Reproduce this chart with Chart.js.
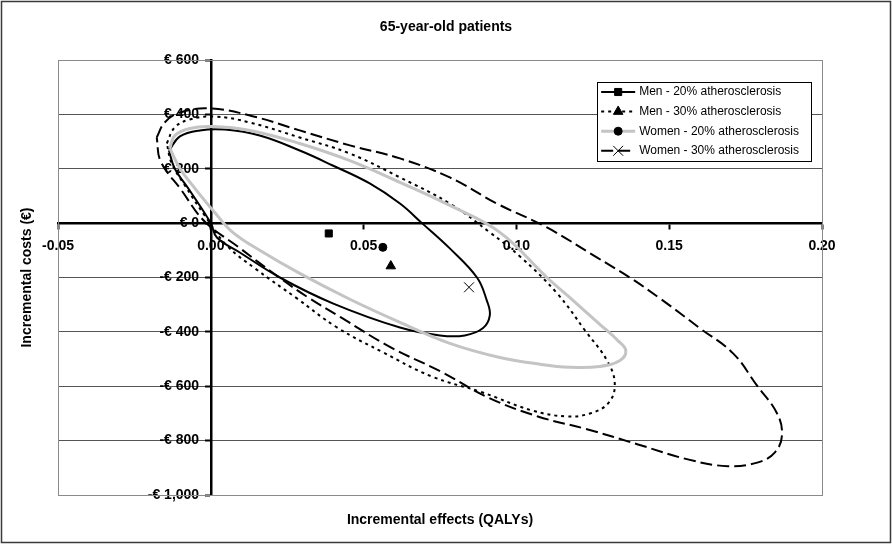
<!DOCTYPE html>
<html>
<head>
<meta charset="utf-8">
<script src="https://cdn.jsdelivr.net/npm/chart.js@4.4.0/dist/chart.umd.min.js"></script>
<style>
  html, body { margin: 0; padding: 0; background: #fff; }
  #wrap { width: 892px; height: 544px; }
</style>
</head>
<body>
<div id="wrap"><canvas id="ceChart" width="892" height="544"></canvas></div>
<script>
// series shown in the legend
const seriesNames = [
  'Men - 20% atherosclerosis',
  'Men - 30% atherosclerosis',
  'Women - 20% atherosclerosis',
  'Women - 30% atherosclerosis'
];

// point estimates (incremental effects, incremental costs)
const pointEffects = [0.0386, 0.0589, 0.0563, 0.0845];
const pointCosts = [-38, -158, -89, -236];

// confidence ellipses, traced point by point
const men20X = [-0.0137, -0.0101, -0.0036, 0.0046, 0.016, 0.0291, 0.0399, 0.052, 0.0619, 0.0691, 0.0782, 0.0871, 0.0903, 0.0913, 0.089, 0.0831, 0.075, 0.0619, 0.0399, 0.0226, 0.0095, 0.002, 0, -0.0069, -0.0118];
const men20Y = [267, 319, 341, 344, 322, 267, 212, 146, 72, 0, -93, -200, -284, -339, -387, -413, -413, -384, -295, -200, -108, -53, 0, 120, 201];

const men30X = [-0.0144, -0.0118, -0.0069, 0.0013, 0.0128, 0.0291, 0.0455, 0.0619, 0.0782, 0.0913, 0.1011, 0.1133, 0.1224, 0.1300, 0.1322, 0.1300, 0.1241, 0.1165, 0.1051, 0.0887, 0.0723, 0.0563, 0.0412, 0.0282, 0.0144, 0.0052, -0.0020, -0.0085, -0.0128];
const men30Y = [293, 352, 381, 392, 370, 315, 256, 168, 72, -34, -122, -258, -394, -512, -597, -663, -700, -711, -689, -622, -564, -475, -383, -277, -166, -82, 28, 139, 220];

const women20X = [-0.0134, -0.0118, -0.0069, 0.0003, 0.0128, 0.0291, 0.0455, 0.0619, 0.0782, 0.0946, 0.1100, 0.1185, 0.1273, 0.1332, 0.1358, 0.1339, 0.1273, 0.1175, 0.1077, 0.0946, 0.0782, 0.0619, 0.0455, 0.0291, 0.0160, 0.0072, 0.0013, -0.0052, -0.0101];
const women20Y = [275, 322, 348, 355, 341, 293, 230, 150, 65, -34, -200, -284, -372, -432, -468, -505, -527, -530, -519, -494, -442, -365, -280, -185, -100, -34, 39, 128, 201];

const women30X = [-0.0177, -0.0151, -0.0101, -0.0003, 0.0128, 0.0291, 0.0455, 0.0619, 0.0782, 0.0936, 0.1100, 0.1263, 0.1371, 0.1470, 0.1601, 0.1709, 0.1787, 0.1853, 0.1869, 0.1846, 0.1791, 0.1692, 0.1561, 0.1398, 0.1234, 0.1070, 0.0907, 0.0753, 0.0589, 0.0426, 0.0318, 0.0219, 0.0088, -0.0020, -0.0098, -0.0164];
const women30Y = [315, 370, 407, 422, 396, 341, 286, 238, 168, 72, -16, -126, -200, -277, -387, -479, -597, -700, -781, -843, -880, -894, -869, -814, -759, -711, -641, -546, -457, -347, -273, -196, -86, 6, 124, 227];

// axis ticks
const effectTicks = [-0.05, 0, 0.05, 0.10, 0.15, 0.20];
const costTicks = [-1000, -800, -600, -400, -200, 0, 200, 400, 600];

const FONT = '"Liberation Sans", Arial, sans-serif';

// line looks per series
const lineColors = ['#000000', '#000000', '#c4c4c4', '#000000'];
const lineWidths = [2, 2, 3, 2];
const lineDashes = [[], [3, 4], [], [12, 5]];
const markerStyles = ['rect', 'triangle', 'circle', 'crossRot'];
const markerRadii = [5, 5.5, 4, 7];

// closed loop: repeat the first point at the end
function ellipsePoints(xs, ys) {
  const pts = xs.map((x, i) => ({ x: x, y: ys[i] }));
  pts.push({ x: xs[0], y: ys[0] });
  return pts;
}

const ellipses = [
  ellipsePoints(men20X, men20Y),
  ellipsePoints(men30X, men30Y),
  ellipsePoints(women20X, women20Y),
  ellipsePoints(women30X, women30Y)
];

const datasets = [];
ellipses.forEach((pts, i) => {
  datasets.push({
    label: seriesNames[i],
    data: pts,
    showLine: true,
    borderColor: lineColors[i],
    borderWidth: lineWidths[i],
    borderDash: lineDashes[i],
    tension: 0.4,
    pointRadius: 0,
    fill: false,
    order: 4 - i
  });
});
pointEffects.forEach((x, i) => {
  datasets.push({
    label: seriesNames[i] + ' (mean)',
    data: [{ x: x, y: pointCosts[i] }],
    showLine: false,
    pointStyle: markerStyles[i],
    pointRadius: markerRadii[i],
    pointBackgroundColor: '#000',
    pointBorderColor: '#000',
    pointBorderWidth: 1,
    order: 0
  });
});

// "€ 600", "-€ 1,000"; trailing spaces keep the text clear of the axis line
function euro(v) {
  const s = Math.abs(v).toLocaleString('en-US');
  return (v < 0 ? '-€ ' : '€ ') + s + '\u00a0\u00a0\u00a0';
}

// white page, outer frame and plot-area frame
const framePlugin = {
  id: 'frame',
  beforeDraw(chart) {
    const ctx = chart.ctx;
    ctx.save();
    ctx.fillStyle = '#fff';
    ctx.fillRect(0, 0, chart.width, chart.height);
    ctx.strokeStyle = '#3a3a3a';
    ctx.lineWidth = 1.5;
    ctx.strokeRect(1.5, 1.5, chart.width - 3, chart.height - 3);
    ctx.restore();
  },
  beforeDatasetsDraw(chart) {
    const a = chart.chartArea;
    const ctx = chart.ctx;
    ctx.save();
    ctx.strokeStyle = '#8a8a8a';
    ctx.lineWidth = 1;
    ctx.strokeRect(a.left + 0.5, a.top + 0.5, a.right - a.left, a.bottom - a.top);
    ctx.restore();
  }
};

// title, axis titles and the boxed legend
const labelPlugin = {
  id: 'labels',
  afterDraw(chart) {
    const ctx = chart.ctx;
    const a = chart.chartArea;
    ctx.save();
    ctx.fillStyle = '#000';
    ctx.textAlign = 'center';
    ctx.textBaseline = 'middle';
    ctx.font = 'bold 14px ' + FONT;
    ctx.fillText('65-year-old patients', 446, 27);
    ctx.fillText('Incremental effects (QALYs)', (a.left + a.right) / 2, 520);
    ctx.translate(27, (a.top + a.bottom) / 2);
    ctx.rotate(-Math.PI / 2);
    ctx.fillText('Incremental costs (€)', 0, 0);
    ctx.restore();

    // legend
    ctx.save();
    ctx.font = '12px ' + FONT;
    const textW = Math.max(...seriesNames.map(n => ctx.measureText(n).width));
    const sample = 34;
    const right = 811;
    const top = 82;
    const rowH = 19.6;
    const textLeft = 799 - textW;
    const left = textLeft - sample - 8;
    const bottom = 161;
    ctx.fillStyle = '#fff';
    ctx.fillRect(left, top, right - left, bottom - top);
    ctx.strokeStyle = '#000';
    ctx.lineWidth = 1;
    ctx.strokeRect(Math.round(left) + 0.5, top + 0.5, Math.round(right - left), bottom - top);
    seriesNames.forEach((name, i) => {
      const y = top + 10 + i * rowH;
      const x0 = left + 4;
      ctx.save();
      ctx.strokeStyle = lineColors[i];
      ctx.lineWidth = lineWidths[i];
      ctx.setLineDash(lineDashes[i]);
      ctx.beginPath();
      ctx.moveTo(x0, y);
      ctx.lineTo(x0 + sample, y);
      ctx.stroke();
      ctx.restore();
      ctx.fillStyle = '#000';
      ctx.strokeStyle = '#000';
      ctx.lineWidth = 1;
      Chart.helpers.drawPoint(ctx, {
        pointStyle: markerStyles[i],
        radius: markerRadii[i],
        borderWidth: 1,
        rotation: 0
      }, x0 + sample / 2, y);
      ctx.fillStyle = '#000';
      ctx.textAlign = 'left';
      ctx.textBaseline = 'middle';
      ctx.fillText(name, textLeft, y);
    });
    ctx.restore();
  }
};

const ctx = document.getElementById('ceChart').getContext('2d');
new Chart(ctx, {
  type: 'scatter',
  data: { datasets: datasets },
  options: {
    responsive: false,
    animation: false,
    layout: {
      padding: { left: 58, right: 70, top: 60, bottom: 49 }
    },
    scales: {
      x: {
        type: 'linear',
        position: { y: 0 },
        min: effectTicks[0],
        max: effectTicks[effectTicks.length - 1],
        afterBuildTicks: (scale) => { scale.ticks = effectTicks.map(v => ({ value: v })); },
        ticks: {
          color: '#000',
          padding: 10,
          maxRotation: 0,
          font: { family: FONT, size: 14, weight: 'bold' },
          callback: (v) => Number(v).toFixed(2)
        },
        grid: {
          drawOnChartArea: false,
          drawTicks: true,
          tickLength: 5,
          tickColor: '#000',
          tickWidth: 2
        },
        border: { display: true, color: '#000', width: 2.5 }
      },
      y: {
        type: 'linear',
        position: { x: 0 },
        min: costTicks[0],
        max: costTicks[costTicks.length - 1],
        afterBuildTicks: (scale) => { scale.ticks = costTicks.map(v => ({ value: v })); },
        ticks: {
          color: '#000',
          padding: 6,
          font: { family: FONT, size: 14, weight: 'bold' },
          callback: (v) => euro(v)
        },
        grid: {
          color: '#555',
          lineWidth: 1,
          drawTicks: true,
          tickLength: 5,
          tickColor: '#000',
          tickWidth: 2
        },
        border: { display: true, color: '#000', width: 2.5 }
      }
    },
    plugins: {
      legend: { display: false },
      tooltip: { enabled: false },
      title: { display: false }
    }
  },
  plugins: [framePlugin, labelPlugin]
});
</script>
</body>
</html>
